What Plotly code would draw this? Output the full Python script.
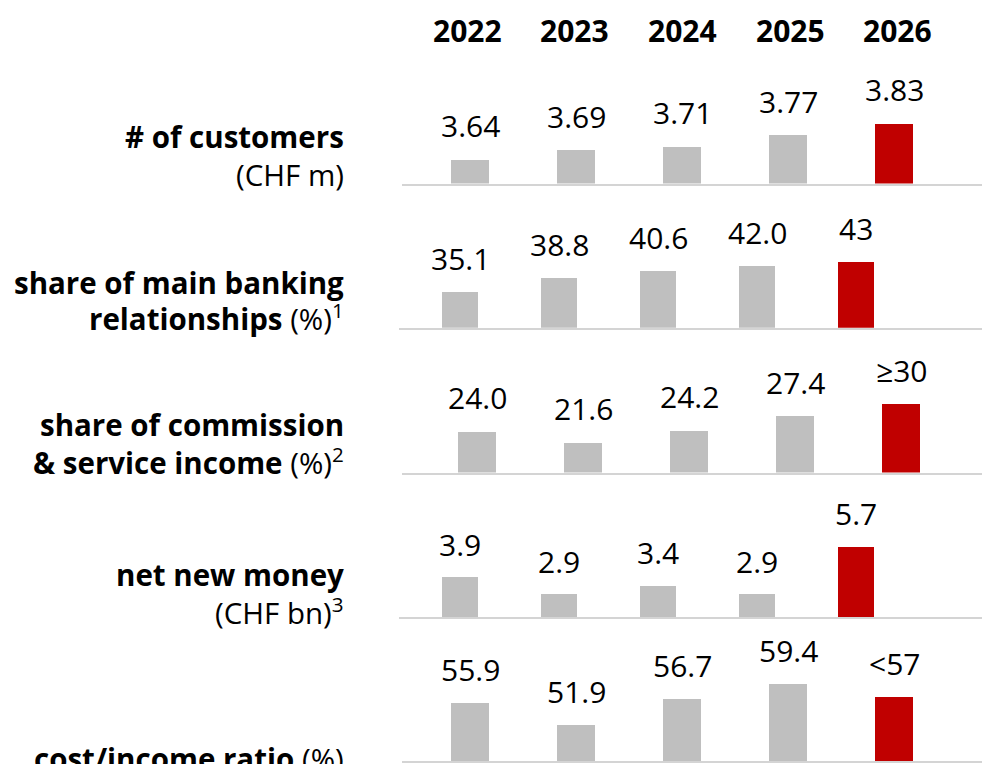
import plotly.graph_objects as go

# ---- data -------------------------------------------------------------
years = ["2022", "2023", "2024", "2025", "2026"]

customers = [3.64, 3.69, 3.71, 3.77, 3.83]
customers_text = ["3.64", "3.69", "3.71", "3.77", "3.83"]

main_banking = [35.1, 38.8, 40.6, 42.0, 43]
main_banking_text = ["35.1", "38.8", "40.6", "42.0", "43"]

commission_share = [24.0, 21.6, 24.2, 27.4, 30]
commission_text = ["24.0", "21.6", "24.2", "27.4", "≥30"]

net_new_money = [3.9, 2.9, 3.4, 2.9, 5.7]
net_new_money_text = ["3.9", "2.9", "3.4", "2.9", "5.7"]

cost_income = [55.9, 51.9, 56.7, 59.4, 57]
cost_income_text = ["55.9", "51.9", "56.7", "59.4", "<57"]

row_titles = [
    ["<b># of customers</b>", "(CHF m)"],
    ["<b>share of main banking</b>", "<b>relationships</b> (%)<sup>1</sup>"],
    ["<b>share of commission</b>", "<b>&amp; service income</b> (%)<sup>2</sup>"],
    ["<b>net new money</b>", "(CHF bn)<sup>3</sup>"],
    ["<b>cost/income ratio</b> (%)"],
]

series = [
    (customers, customers_text),
    (main_banking, main_banking_text),
    (commission_share, commission_text),
    (net_new_money, net_new_money_text),
    (cost_income, cost_income_text),
]

# ---- page geometry (pixels) --------------------------------------------
W, H = 982, 764
FONT = "Open Sans, Noto Sans, sans-serif"
GREY, RED, LINE = "#bfbfbf", "#c00000", "#d4d4d4"

# per panel: baseline y, first bar centre, bar pitch, bar width,
# value at the baseline, pixels per unit, left end of the baseline
panels = [
    dict(base=183.5, first=470, step=106, width=38, y0=3.513, k=189.5, left=402),
    dict(base=327.7, first=460, step=99, width=36, y0=25.53, k=3.76, left=399),
    dict(base=472.5, first=477, step=106, width=38, y0=15.13, k=4.64, left=402),
    dict(base=617.3, first=460, step=99, width=36, y0=1.574, k=17.04, left=399),
    dict(base=761.0, first=470, step=106, width=38, y0=45.42, k=5.51, left=402),
]
# baselines of the row-title text lines
title_baselines = [[146, 184], [292.5, 326.5], [433.5, 471], [583.5, 621], [768]]
TITLE_RIGHT = 346
TITLE_SIZE = 29.5
SPAN = 130  # panel height in pixels

fig = go.Figure()
annotations = []
layout = {}

for n, ((vals, texts), p) in enumerate(zip(series, panels), start=1):
    xa, ya = f"x{n}", f"y{n}"
    colors = [GREY] * (len(vals) - 1) + [RED]
    fig.add_trace(go.Bar(
        x=list(range(len(vals))), y=vals, xaxis=xa, yaxis=ya,
        marker=dict(color=colors, line=dict(width=0)),
        width=p["width"] / p["step"], hoverinfo="skip", showlegend=False,
    ))
    layout[f"xaxis{n}"] = dict(
        domain=[p["left"] / W, 1.0],
        range=[(p["left"] - p["first"]) / p["step"], (W - p["first"]) / p["step"]],
        anchor=ya, showgrid=False, zeroline=False, showticklabels=False,
        ticks="", showline=True, linecolor=LINE, linewidth=2, fixedrange=True,
    )
    layout[f"yaxis{n}"] = dict(
        domain=[1 - p["base"] / H, 1 - (p["base"] - SPAN) / H],
        range=[p["y0"], p["y0"] + SPAN / p["k"]],
        anchor=xa, visible=False, fixedrange=True,
    )
    for i, (v, t) in enumerate(zip(vals, texts)):
        annotations.append(dict(
            xref=xa, yref=ya, x=i, y=v, text=t, showarrow=False,
            yanchor="bottom", yshift=11,
            font=dict(family=FONT, size=30, color="#000000"),
        ))

# row titles
for lines, bases in zip(row_titles, title_baselines):
    for txt, b in zip(lines, bases):
        annotations.append(dict(
            xref="paper", yref="paper", x=TITLE_RIGHT / W, y=1 - (b - 9.5) / H,
            xanchor="right", yanchor="middle", align="right",
            text=txt, showarrow=False,
            font=dict(family=FONT, size=TITLE_SIZE, color="#000000"),
        ))

# year headers
HEAD_FIRST, HEAD_STEP, HEAD_Y = 467, 107.7, 30.5
for i, yr in enumerate(years):
    annotations.append(dict(
        xref="paper", yref="paper", x=(HEAD_FIRST + HEAD_STEP * i) / W,
        y=1 - HEAD_Y / H, xanchor="center", yanchor="middle",
        text=f"<b>{yr}</b>", showarrow=False,
        font=dict(family=FONT, size=30, color="#000000"),
    ))

fig.update_layout(
    width=W, height=H, margin=dict(l=0, r=0, t=0, b=0),
    paper_bgcolor="white", plot_bgcolor="white",
    annotations=annotations, bargap=0, **layout,
)

fig.write_html("out.html", config={"displayModeBar": False})
